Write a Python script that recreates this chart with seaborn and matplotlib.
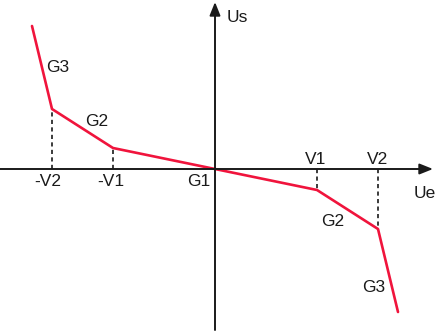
import matplotlib
matplotlib.use("Agg")
import matplotlib.pyplot as plt
import seaborn as sns
import pandas as pd

# Piecewise characteristic Us = f(Ue)
ue = [-183, -163, -102, 0, 102, 163, 183]
us = [143, 60, 21, 0, -21, -60, -143]

# breakpoints with dotted drop lines
break_x = [-163, -102, 102, 163]
break_y = [60, 21, -21, -60]

# text labels (x, y, text)
label_x = [-167, -104, -16, 101, 163, -157, -118, 118, 159, 22, 210]
label_y = [-13, -13, -13, 9, 9, 102, 47, -53, -119, 151, -25]
label_txt = ["-V2", "-V1", "G1", "V1", "V2", "G3", "G2", "G2", "G3", "Us", "Ue"]

df = pd.DataFrame({"Ue": ue, "Us": us})

sns.set_style("white")
plt.rcParams["font.family"] = ["Liberation Sans", "DejaVu Sans"]

fig = plt.figure(figsize=(4.36, 3.32), dpi=100)
ax = fig.add_axes([0, 0, 1, 1])

# axes with arrowheads
ax.annotate("", xy=(218, 0), xytext=(-215, 0),
            arrowprops=dict(arrowstyle="-|>,head_length=0.8,head_width=0.32",
                            color="#1a1a1a", lw=1.4, shrinkA=0, shrinkB=0))
ax.annotate("", xy=(0, 167), xytext=(0, -161),
            arrowprops=dict(arrowstyle="-|>,head_length=0.8,head_width=0.32",
                            color="#1a1a1a", lw=1.4, shrinkA=0, shrinkB=0))

for bx, by in zip(break_x, break_y):
    ax.plot([bx, bx], [0, by], color="#1a1a1a", lw=1.2, ls=(0, (2.5, 2)))

sns.lineplot(data=df, x="Ue", y="Us", sort=False, color="#f0143c", lw=1.9,
             ax=ax, legend=False)
ax.set_xlim(-215, 221)
ax.set_ylim(-163, 169)
ax.axis("off")

for tx, ty, t in zip(label_x, label_y, label_txt):
    ax.text(tx, ty, t, ha="center", va="center", fontsize=12.5, color="#1a1a1a")

fig.savefig("out.png", dpi=100)
